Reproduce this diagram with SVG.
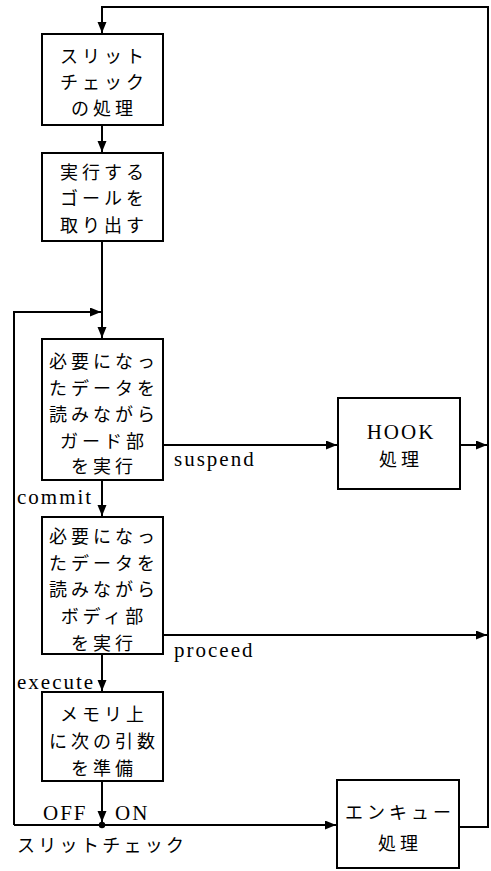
<svg xmlns="http://www.w3.org/2000/svg" width="491" height="871" viewBox="0 0 491 871">
<style>
.box{fill:#fff;stroke:#000;stroke-width:2}
.ln{fill:none;stroke:#000;stroke-width:2}
.jp{font-family:"Noto Sans CJK JP","Liberation Serif",sans-serif;font-size:18px;letter-spacing:4px;text-anchor:middle;dominant-baseline:central;fill:#000}
.lat{font-family:"Liberation Serif","Noto Sans CJK JP",serif;font-size:21px;letter-spacing:2px;fill:#000}
.jl{font-family:"Noto Sans CJK JP",sans-serif;font-size:18px;fill:#000;letter-spacing:3.3px}
</style>
<defs>
<marker id="ah" markerUnits="userSpaceOnUse" markerWidth="12" markerHeight="10" refX="11" refY="4.5" orient="auto">
<path d="M0,0 L11,4.5 L0,9 Z" fill="#000"/>
</marker>
</defs>
<rect width="491" height="871" fill="#fff"/>
<g id="connectors">
<path class="ln" d="M459,827 H488 V7 H102 V33" marker-end="url(#ah)"/>
<path class="ln" d="M102,125 V152" marker-end="url(#ah)"/>
<path class="ln" d="M102,241 V338" marker-end="url(#ah)"/>
<path class="ln" d="M14,825 V312 H101" marker-end="url(#ah)"/>
<path class="ln" d="M102,480 V516" marker-end="url(#ah)"/>
<path class="ln" d="M102,654 V691" marker-end="url(#ah)"/>
<path class="ln" d="M102,781 V822" marker-end="url(#ah)"/>
<path class="ln" d="M14,825 H336" marker-end="url(#ah)"/>
<circle cx="102" cy="825" r="3.2" fill="#000"/>
<path class="ln" d="M163,445 H337" marker-end="url(#ah)"/>
<path class="ln" d="M460,445 H487" marker-end="url(#ah)"/>
<path class="ln" d="M163,635 H487" marker-end="url(#ah)"/>
<text class="lat" x="174" y="466">suspend</text>
<text class="lat" x="174" y="657">proceed</text>
<text class="lat" x="17" y="504">commit</text>
<text class="lat" x="17" y="689">execute</text>
<text class="lat" x="43" y="820">OFF</text>
<text class="lat" x="115" y="820">ON</text>
<text class="jl" x="17" y="852">スリットチェック</text>
</g>
<g id="slit">
<rect class="box" x="42" y="34" width="121" height="91"/>
<text class="jp" x="104" y="55">スリット</text>
<text class="jp" x="104" y="81">チェック</text>
<text class="jp" x="104" y="107">の処理</text>
</g>
<g id="fetch">
<rect class="box" x="42" y="153" width="121" height="88"/>
<text class="jp" x="104" y="171">実行する</text>
<text class="jp" x="104" y="197">ゴールを</text>
<text class="jp" x="104" y="224">取り出す</text>
</g>
<g id="guard">
<rect class="box" x="42" y="339" width="121" height="141"/>
<text class="jp" x="104" y="360">必要になっ</text>
<text class="jp" x="104" y="387">たデータを</text>
<text class="jp" x="104" y="413">読みながら</text>
<text class="jp" x="104" y="440">ガード部</text>
<text class="jp" x="104" y="465">を実行</text>
</g>
<g id="body">
<rect class="box" x="42" y="517" width="121" height="137"/>
<text class="jp" x="104" y="535">必要になっ</text>
<text class="jp" x="104" y="562">たデータを</text>
<text class="jp" x="104" y="588">読みながら</text>
<text class="jp" x="104" y="615">ボディ部</text>
<text class="jp" x="104" y="642">を実行</text>
</g>
<g id="args">
<rect class="box" x="42" y="692" width="121" height="89"/>
<text class="jp" x="104" y="713">メモリ上</text>
<text class="jp" x="104" y="740">に次の引数</text>
<text class="jp" x="104" y="767">を準備</text>
</g>
<g id="hook">
<rect class="box" x="338" y="398" width="122" height="91"/>
<text class="lat" x="401" y="439" text-anchor="middle" letter-spacing="4">HOOK</text>
<text class="jp" x="401" y="458">処理</text>
</g>
<g id="enqueue">
<rect class="box" x="337" y="780" width="122" height="88"/>
<text class="jp" x="400" y="811">エンキュー</text>
<text class="jp" x="400" y="842">処理</text>
</g>
</svg>
